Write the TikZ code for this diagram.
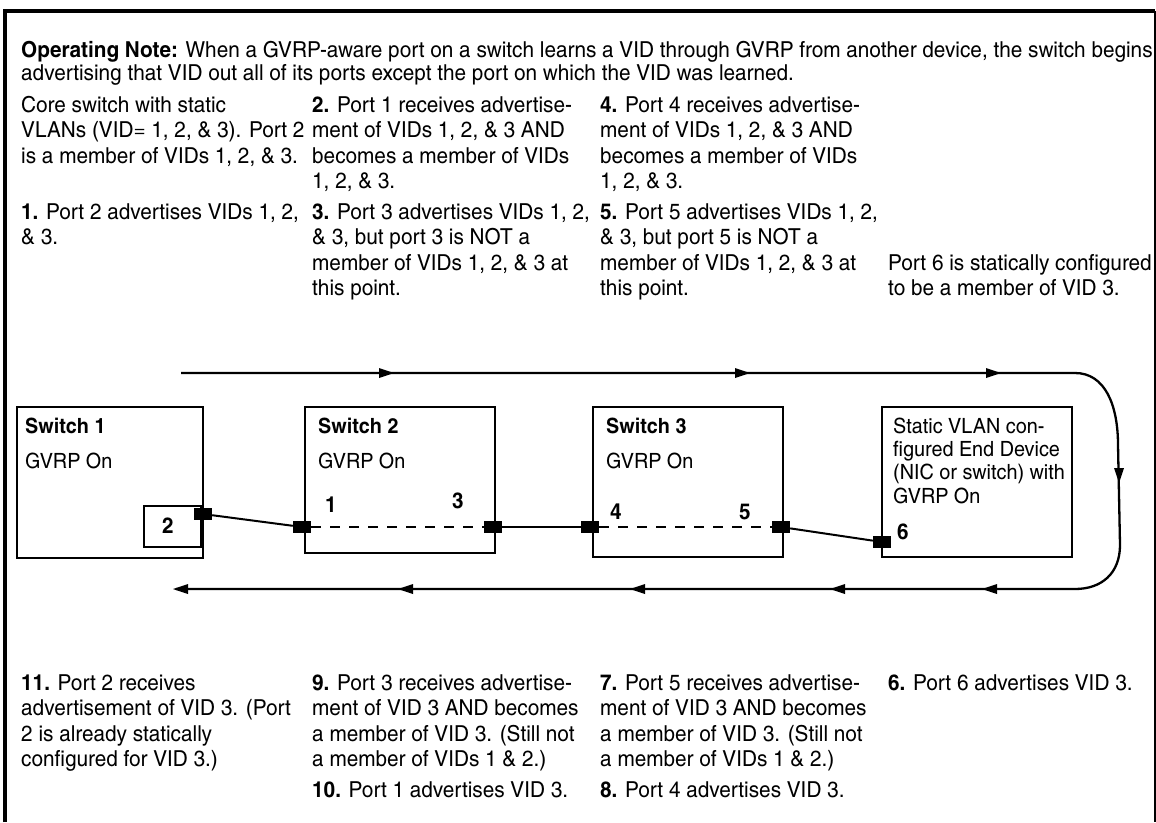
\documentclass[tikz,border=0pt]{standalone}
\usepackage{fontspec}
\setmainfont{texgyreheroscn}[Extension=.otf, UprightFont=*-regular, BoldFont=*-bold, ItalicFont=*-italic, BoldItalicFont=*-bolditalic, FakeStretch=1.15]
\usepackage{tikz}
\newcommand{\bodysize}{\fontsize{22}{25.5}\selectfont}
\newcommand{\notesize}{\fontsize{22}{23}\selectfont}
\newcommand{\boxsize}{\fontsize{21}{23.3}\selectfont}
\newcommand{\portsize}{\fontsize{22}{22}\selectfont\bfseries}

\begin{document}
\begin{tikzpicture}[x=1pt,y=1pt]
    \tikzstyle{every node}+=[inner sep=0pt]
    \tikzstyle{txt}=[anchor=base west, align=left, font=\bodysize]
    \tikzstyle{boxtxt}=[anchor=base west, align=left, font=\boxsize]
    \tikzstyle{devbox}=[draw=black, line width=2.3, anchor=north west, minimum width=186, minimum height=150]
    \tikzstyle{port}=[fill=black, minimum width=18, minimum height=12]
    \tikzstyle{portnum}=[font=\portsize]
    \tikzstyle{link}=[black, line width=2]
    \tikzstyle{flow}=[black, line width=2.3]
    \useasboundingbox (0,0) rectangle (1156,-822);
    % frame, open at the bottom
    \draw [black, line width=3.5] (5,-822) -- (5,-11) -- (1155,-11);
    \draw [black, line width=2.5] (1155,-11) -- (1155,-822);
    % note and steps 1 to 5 (base of a node = its last line)
    \draw (21,-80) node [txt, font=\notesize] (note) {\textbf{Operating Note:} When a GVRP-aware port on a switch learns a VID through GVRP from another device, the switch begins\\advertising that VID out all of its ports except the port on which the VID was learned.};
    \draw (21,-163) node [txt] (core) {Core switch with static\\VLANs (VID= 1, 2, \& 3). Port 2\\is a member of VIDs 1, 2, \& 3.};
    \draw (21,-244.5) node [txt] (stepa) {\textbf{1.} Port 2 advertises VIDs 1, 2,\\\& 3.};
    \draw (312,-188.5) node [txt] (stepb) {\textbf{2.} Port 1 receives advertise-\\ment of VIDs 1, 2, \& 3 AND\\becomes a member of VIDs\\1, 2, \& 3.};
    \draw (312,-295.5) node [txt] (stepc) {\textbf{3.} Port 3 advertises VIDs 1, 2,\\\& 3, but port 3 is NOT a\\member of VIDs 1, 2, \& 3 at\\this point.};
    \draw (600,-188.5) node [txt] (stepd) {\textbf{4.} Port 4 receives advertise-\\ment of VIDs 1, 2, \& 3 AND\\becomes a member of VIDs\\1, 2, \& 3.};
    \draw (600,-295.5) node [txt] (stepe) {\textbf{5.} Port 5 advertises VIDs 1, 2,\\\& 3, but port 5 is NOT a\\member of VIDs 1, 2, \& 3 at\\this point.};
    \draw (888,-295.5) node [txt] (static) {Port 6 is statically configured\\to be a member of VID 3.};
    % devices
    \draw (16,-406) node [devbox, minimum height=151] (sw1) {};
    \draw (304,-406) node [devbox, minimum width=190, minimum height=146] (sw2) {};
    \draw (592,-406) node [devbox, minimum width=190] (sw3) {};
    \draw (881,-406) node [devbox, minimum width=190] (enddev) {};
    \draw (143,-505) node [draw=black, line width=2, anchor=north west, minimum width=57, minimum height=41] (inner2) {};
    \draw (25,-433) node [boxtxt, font=\boxsize\bfseries] (sw1name) {Switch 1};
    \draw (25,-468) node [boxtxt] (sw1gvrp) {GVRP On};
    \draw (318,-433) node [boxtxt, font=\boxsize\bfseries] (sw2name) {Switch 2};
    \draw (318,-468) node [boxtxt] (sw2gvrp) {GVRP On};
    \draw (606,-433) node [boxtxt, font=\boxsize\bfseries] (sw3name) {Switch 3};
    \draw (606,-468) node [boxtxt] (sw3gvrp) {GVRP On};
    \draw (893,-503) node [boxtxt] (endtext) {Static VLAN con-\\figured End Device\\(NIC or switch) with\\GVRP On};
    % ports
    \draw (203,-514) node [port] (p2) {};
    \draw (302,-527) node [port] (p1) {};
    \draw (493,-527) node [port] (p3) {};
    \draw (590,-527) node [port] (p4) {};
    \draw (781,-527) node [port] (p5) {};
    \draw (882,-542) node [port] (p6) {};
    \draw (168,-526) node [portnum] (n2) {2};
    \draw (331,-505) node [portnum] (n1) {1};
    \draw (458,-501) node [portnum] (n3) {3};
    \draw (616,-512) node [portnum] (n4) {4};
    \draw (745,-512) node [portnum] (n5) {5};
    \draw (903,-532) node [portnum] (n6) {6};
    % links
    \draw [link] (p2) -- (p1);
    \draw [link, dash pattern=on 10pt off 9pt] (p1) -- (p3);
    \draw [link] (p3) -- (p4);
    \draw [link, dash pattern=on 10pt off 9pt] (p4) -- (p5);
    \draw [link] (p5) -- (p6);
    % advertisement loop
    \coordinate (loopin) at (181,-373);
    \coordinate (loopout) at (176,-589);
    \draw [flow] (loopin) -- (1075,-373) .. controls (1105,-373) and (1118,-405) .. (1118,-445) -- (1120,-545) .. controls (1120,-573) and (1102,-589) .. (1075,-589) -- (loopout);
    \fill [black] (394,-373) -- (379,-368) -- (379,-378);
    \fill [black] (750,-373) -- (735,-368) -- (735,-378);
    \fill [black] (1001,-373) -- (986,-368) -- (986,-378);
    \fill [black] (1119,-483) -- (1114,-468) -- (1124,-468);
    \fill [black] (982,-589) -- (997,-584) -- (997,-594);
    \fill [black] (830,-589) -- (845,-584) -- (845,-594);
    \fill [black] (630,-589) -- (645,-584) -- (645,-594);
    \fill [black] (398,-589) -- (413,-584) -- (413,-594);
    \fill [black] (173,-589) -- (188,-584) -- (188,-594);
    % steps 6 to 11
    \draw (21,-766.5) node [txt] (stepk) {\textbf{11.} Port 2 receives\\advertisement of VID 3. (Port\\2 is already statically\\configured for VID 3.)};
    \draw (312,-766.5) node [txt] (stepi) {\textbf{9.} Port 3 receives advertise-\\ment of VID 3 AND becomes\\a member of VID 3. (Still not\\a member of VIDs 1 \& 2.)};
    \draw (312,-797) node [txt] (stepj) {\textbf{10.} Port 1 advertises VID 3.};
    \draw (600,-766.5) node [txt] (stepg) {\textbf{7.} Port 5 receives advertise-\\ment of VID 3 AND becomes\\a member of VID 3. (Still not\\a member of VIDs 1 \& 2.)};
    \draw (600,-797) node [txt] (steph) {\textbf{8.} Port 4 advertises VID 3.};
    \draw (888,-690) node [txt] (stepf) {\textbf{6.} Port 6 advertises VID 3.};
\end{tikzpicture}
\end{document}
